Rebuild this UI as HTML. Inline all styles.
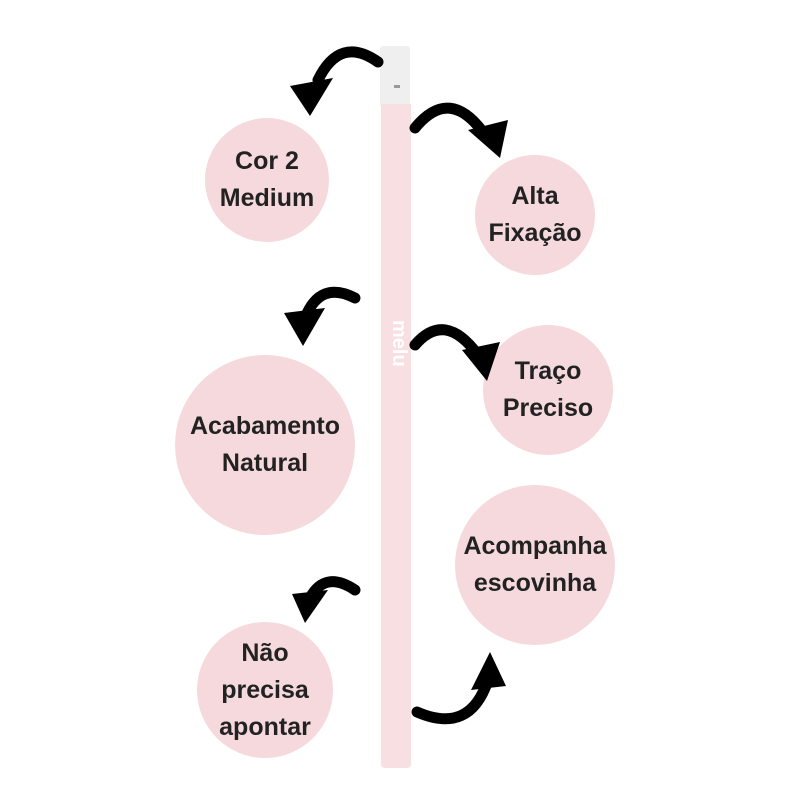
<!DOCTYPE html><html><head><style>
body{margin:0;width:800px;height:800px;background:#fff;position:relative;overflow:hidden;font-family:"Liberation Sans",sans-serif}
.c{position:absolute;border-radius:50%;background:#f6d9dc;display:flex;align-items:center;justify-content:center;text-align:center;font-weight:bold;color:#222;font-size:25px;line-height:37px}
</style></head><body>
<div style="position:absolute;left:380px;top:46px;width:30px;height:60px;background:#efefef;border-radius:3px 3px 0 0"></div>
<div style="position:absolute;left:381px;top:104px;width:30px;height:664px;background:#f8dfe2;border-radius:0 0 4px 4px"></div>
<div style="position:absolute;left:394px;top:85px;width:6px;height:3px;background:#999"></div>
<div style="position:absolute;top:320px;left:410px;color:#fff;font-weight:bold;font-size:20px;transform:rotate(90deg);transform-origin:left top">melu</div>
<div class="c" style="left:205px;top:118px;width:124px;height:124px">Cor 2<br>Medium</div>
<div class="c" style="left:475px;top:155px;width:120px;height:120px">Alta<br>Fixação</div>
<div class="c" style="left:175px;top:355px;width:180px;height:180px">Acabamento<br>Natural</div>
<div class="c" style="left:483px;top:325px;width:130px;height:130px">Traço<br>Preciso</div>
<div class="c" style="left:455px;top:485px;width:160px;height:160px">Acompanha<br>escovinha</div>
<div class="c" style="left:197px;top:622px;width:136px;height:136px">Não<br>precisa<br>apontar</div>
<svg width="800" height="800" style="position:absolute;left:0;top:0">
<g fill="none" stroke="#000" stroke-width="11" stroke-linecap="round">
<path d="M378 62 Q340 35 318 80"/>
<path d="M415 128 Q450 85 485 135"/>
<path d="M355 298 Q320 280 305 318"/>
<path d="M415 345 Q445 310 478 355"/>
<path d="M355 590 Q325 570 310 598"/>
<path d="M417 712 Q470 735 488 680"/>
</g>
<g fill="#000">
<polygon points="290,86 333,78 310,116"/>
<polygon points="468,130 508,120 500,158"/>
<polygon points="284,313 325,308 303,346"/>
<polygon points="462,350 500,342 487,381"/>
<polygon points="292,594 328,590 305,623"/>
<polygon points="471,690 506,686 490,652"/>
</g>
</svg>
</body></html>
